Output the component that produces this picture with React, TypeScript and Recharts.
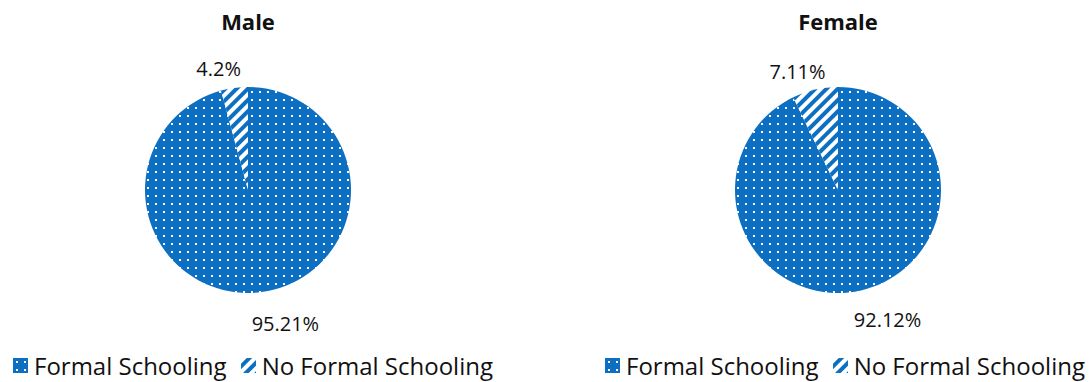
import { PieChart, Pie, Cell, Legend } from "recharts";

const categories = ["Formal Schooling", "No Formal Schooling"];
const maleValues = [95.21, 4.2];
const femaleValues = [92.12, 7.11];
const maleLabels = ["95.21%", "4.2%"];
const femaleLabels = ["92.12%", "7.11%"];

const BLUE = "#0d6fc1";
const FONT = "'Open Sans', 'Noto Sans', sans-serif";
const fills = ["url(#dots)", "url(#hatch)"];

const RADIAN = Math.PI / 180;

function makeLabel(texts: string[]) {
  return (props: any) => {
    const { cx, cy, midAngle, outerRadius, index } = props;
    const big = index === 0;
    const r = outerRadius + (big ? 36 : 22);
    const a = (midAngle + (big ? 8 : 6)) * RADIAN;
    const x = cx + r * Math.cos(a);
    const y = cy - r * Math.sin(a);
    return (
      <text
        x={x}
        y={y}
        textAnchor="middle"
        dominantBaseline="central"
        fill="#111"
        fontSize={20}
        fontFamily={FONT}
      >
        {texts[index]}
      </text>
    );
  };
}

function LegendContent() {
  return (
    <div
      style={{
        display: "flex",
        justifyContent: "center",
        alignItems: "center",
        fontFamily: FONT,
        fontSize: 24,
        color: "#111",
        whiteSpace: "nowrap",
      }}
    >
      {categories.map((c, i) => (
        <span
          key={c}
          style={{ display: "inline-flex", alignItems: "center", marginRight: i === 0 ? 14 : 0 }}
        >
          <svg width={15} height={15} style={{ marginRight: 6 }}>
            <rect x={0} y={0} width={15} height={15} fill={fills[i]} />
          </svg>
          {c}
        </span>
      ))}
    </div>
  );
}

function SchoolPie({
  title,
  values,
  labels,
  left,
  width,
}: {
  title: string;
  values: number[];
  labels: string[];
  left: number;
  width: number;
}) {
  const data = categories.map((name, i) => ({ name, value: values[i] }));
  return (
    <div style={{ position: "absolute", left, top: 0, width, height: 382 }}>
      <div
        style={{
          position: "absolute",
          left: 248 - 100,
          width: 200,
          top: 6,
          textAlign: "center",
          fontFamily: FONT,
          fontWeight: 700,
          fontSize: 22,
          color: "#111",
        }}
      >
        {title}
      </div>
      <PieChart width={width} height={382} margin={{ top: 0, right: 0, bottom: 0, left: 0 }}>
        <Pie
          data={data}
          dataKey="value"
          nameKey="name"
          cx={248}
          cy={190}
          outerRadius={103}
          startAngle={90}
          endAngle={-270}
          stroke="none"
          label={makeLabel(labels)}
          labelLine={false}
          isAnimationActive={false}
        >
          {data.map((d, i) => (
            <Cell key={d.name} fill={fills[i]} />
          ))}
        </Pie>
        <Legend
          verticalAlign="bottom"
          content={<LegendContent />}
          wrapperStyle={{ bottom: 0 }}
        />
      </PieChart>
    </div>
  );
}

export default function App() {
  return (
    <div
      style={{
        position: "absolute",
        left: 0,
        top: 0,
        width: 1089,
        height: 382,
        background: "#fff",
        overflow: "hidden",
      }}
    >
      <svg width={0} height={0} style={{ position: "absolute" }}>
        <defs>
          <pattern id="dots" width={8} height={8} patternUnits="userSpaceOnUse">
            <rect x={0} y={0} width={8} height={8} fill={BLUE} />
            <rect x={3} y={3} width={2} height={2} fill="#ffffff" />
          </pattern>
          <pattern
            id="hatch"
            width={8}
            height={8}
            patternUnits="userSpaceOnUse"
            patternTransform="rotate(45)"
          >
            <rect x={0} y={0} width={8} height={8} fill={BLUE} />
            <rect x={0} y={0} width={4} height={8} fill="#ffffff" />
          </pattern>
        </defs>
      </svg>
      <SchoolPie title="Male" values={maleValues} labels={maleLabels} left={0} width={506} />
      <SchoolPie title="Female" values={femaleValues} labels={femaleLabels} left={590} width={510} />
    </div>
  );
}
